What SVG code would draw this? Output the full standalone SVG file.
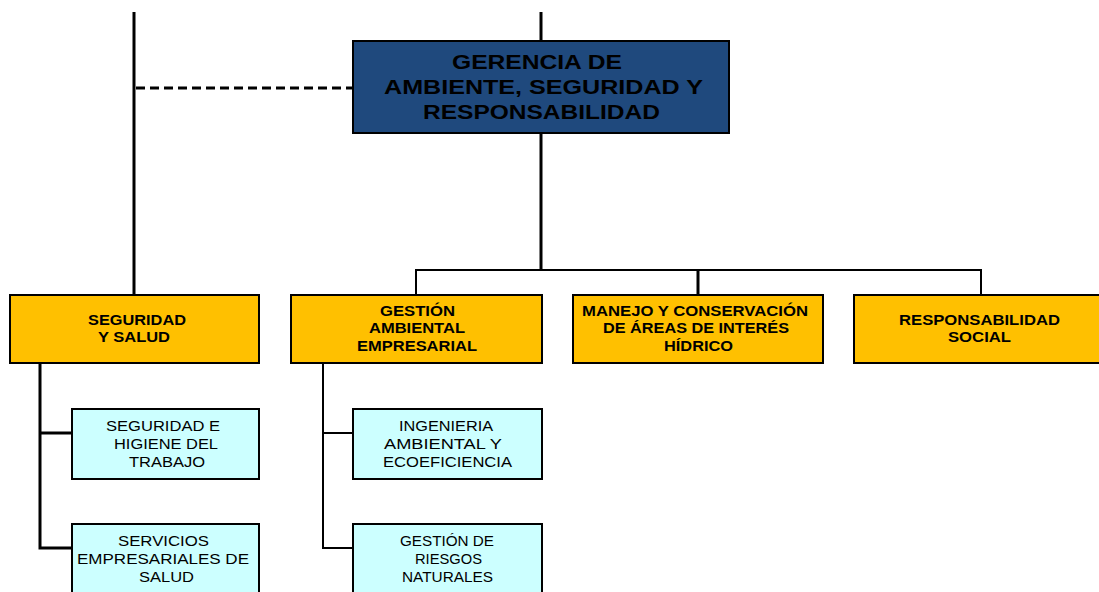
<svg xmlns="http://www.w3.org/2000/svg" width="1099" height="592" viewBox="0 0 1099 592">
<style>
.ln{stroke:#000;stroke-width:3;fill:none}
.ln2{stroke:#000;stroke-width:2;fill:none}
.top{fill:#1F497D;stroke:#000;stroke-width:2}
.org{fill:#FFC000;stroke:#000;stroke-width:2}
.cy{fill:#CCFFFF;stroke:#000;stroke-width:2}
text{font-family:"Liberation Sans",Arial,sans-serif;text-anchor:middle;fill:#000}
.tt{font-size:21px;font-weight:bold}
.ot{font-size:14px;font-weight:bold}
.ct{font-size:14px}
</style>
<rect width="1099" height="592" fill="#fff"/>
<g id="connectors">
<line class="ln" x1="134" y1="12" x2="134" y2="295"/>
<line class="ln" x1="136" y1="88" x2="353" y2="88" stroke-dasharray="9,5"/>
<line class="ln" x1="541" y1="12" x2="541" y2="41"/>
<line class="ln" x1="541" y1="133" x2="541" y2="270"/>
<polyline class="ln2" points="416,295 416,270 981,270 981,295"/>
<line class="ln" x1="698" y1="270" x2="698" y2="295"/>
<polyline class="ln" points="40,363 40,548 72,548"/>
<line class="ln" x1="40" y1="433" x2="72" y2="433"/>
<polyline class="ln2" points="323,363 323,548 353,548"/>
<line class="ln2" x1="323" y1="433" x2="353" y2="433"/>
</g>
<g id="gerencia">
<rect class="top" x="353" y="41" width="376" height="92"/>
<text class="tt" x="537" y="69" textLength="170" lengthAdjust="spacingAndGlyphs">GERENCIA DE</text>
<text class="tt" x="543.5" y="94" textLength="319" lengthAdjust="spacingAndGlyphs">AMBIENTE,  SEGURIDAD Y</text>
<text class="tt" x="541.5" y="119" textLength="237" lengthAdjust="spacingAndGlyphs">RESPONSABILIDAD</text>
</g>
<g id="seguridad-salud">
<rect class="org" x="10" y="295" width="249" height="68"/>
<text class="ot" x="137" y="325" textLength="98" lengthAdjust="spacingAndGlyphs">SEGURIDAD</text>
<text class="ot" x="134" y="342" textLength="72" lengthAdjust="spacingAndGlyphs">Y SALUD</text>
</g>
<g id="gestion-ambiental">
<rect class="org" x="291" y="295" width="251" height="68"/>
<text class="ot" x="417.5" y="316" textLength="75" lengthAdjust="spacingAndGlyphs">GESTIÓN</text>
<text class="ot" x="417" y="333" textLength="96" lengthAdjust="spacingAndGlyphs">AMBIENTAL</text>
<text class="ot" x="417" y="351" textLength="120" lengthAdjust="spacingAndGlyphs">EMPRESARIAL</text>
</g>
<g id="manejo">
<rect class="org" x="573" y="295" width="250" height="68"/>
<text class="ot" x="695" y="316" textLength="226" lengthAdjust="spacingAndGlyphs">MANEJO Y CONSERVACIÓN</text>
<text class="ot" x="696" y="333" textLength="186" lengthAdjust="spacingAndGlyphs">DE ÁREAS DE INTERÉS</text>
<text class="ot" x="698.5" y="351" textLength="69" lengthAdjust="spacingAndGlyphs">HÍDRICO</text>
</g>
<g id="responsabilidad-social">
<rect class="org" x="854" y="295" width="250" height="68"/>
<text class="ot" x="979.5" y="325" textLength="161" lengthAdjust="spacingAndGlyphs">RESPONSABILIDAD</text>
<text class="ot" x="979.5" y="342" textLength="63" lengthAdjust="spacingAndGlyphs">SOCIAL</text>
</g>
<g id="seguridad-higiene">
<rect class="cy" x="72" y="409" width="187" height="70"/>
<text class="ct" x="163" y="431" textLength="114" lengthAdjust="spacingAndGlyphs">SEGURIDAD E</text>
<text class="ct" x="166" y="449" textLength="104" lengthAdjust="spacingAndGlyphs">HIGIENE DEL</text>
<text class="ct" x="167" y="467" textLength="76" lengthAdjust="spacingAndGlyphs">TRABAJO</text>
</g>
<g id="servicios-salud">
<rect class="cy" x="72" y="524" width="187" height="72"/>
<text class="ct" x="163.5" y="546" textLength="91" lengthAdjust="spacingAndGlyphs">SERVICIOS</text>
<text class="ct" x="163" y="564" textLength="172" lengthAdjust="spacingAndGlyphs">EMPRESARIALES DE</text>
<text class="ct" x="166.5" y="582" textLength="55" lengthAdjust="spacingAndGlyphs">SALUD</text>
</g>
<g id="ingenieria">
<rect class="cy" x="353" y="409" width="189" height="70"/>
<text class="ct" x="446" y="431" textLength="94" lengthAdjust="spacingAndGlyphs">INGENIERIA</text>
<text class="ct" x="443" y="449" textLength="118" lengthAdjust="spacingAndGlyphs">AMBIENTAL Y</text>
<text class="ct" x="447.5" y="467" textLength="129" lengthAdjust="spacingAndGlyphs">ECOEFICIENCIA</text>
</g>
<g id="riesgos">
<rect class="cy" x="353" y="524" width="189" height="72"/>
<text class="ct" x="447" y="546" textLength="94" lengthAdjust="spacingAndGlyphs">GESTIÓN DE</text>
<text class="ct" x="448.5" y="564" textLength="67" lengthAdjust="spacingAndGlyphs">RIESGOS</text>
<text class="ct" x="447.5" y="582" textLength="91" lengthAdjust="spacingAndGlyphs">NATURALES</text>
</g>
</svg>
